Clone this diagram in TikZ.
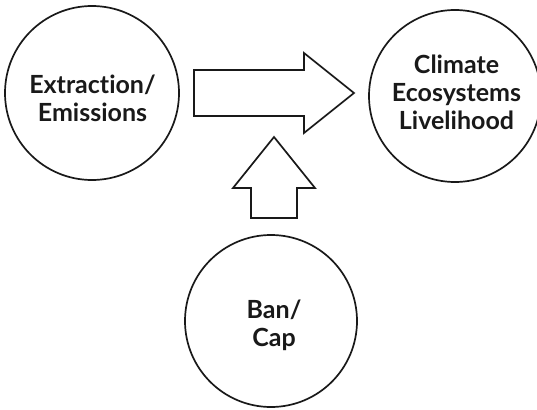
\documentclass[tikz,border=0pt]{standalone}
\usepackage{fontspec}
\setmainfont{Lato}[Ligatures={NoCommon,NoDiscretionary}]
\begin{document}
\begin{tikzpicture}[x=1pt,y=-1pt,
  ink/.style={line width=1.7pt,draw=black!90},
  bubble/.style={ink,circle,minimum size=#1,inner sep=0pt},
  caption/.style={font=\fontsize{25}{28}\selectfont\bfseries,align=center,text=black!90}]
\useasboundingbox (0,0) rectangle (537,409);
% three circles
\node[bubble=174pt] (src) at (92,93) {};
\node[bubble=172pt] (eff) at (455,96) {};
\node[bubble=172pt] (pol) at (271,321) {};
\node[caption] (srct) at (92.5,98) {Extraction/\\Emissions};
\node[caption] (efft) at (456.5,92) {Climate\\Ecosystems\\Livelihood};
\node[caption] (polt) at (274,325) {Ban/\\Cap};
% block arrow from the source to the effects
\draw[ink,line join=miter] (194,70) -- (304,70) -- (304,53) -- (354,93)
  -- (304,133) -- (304,116) -- (194,116) -- cycle;
% block arrow from the policy up towards the first arrow
\draw[ink,line join=miter] (274,137) -- (315,188) -- (297,188) -- (297,218)
  -- (251,218) -- (251,188) -- (233,188) -- cycle;
\end{tikzpicture}
\end{document}
